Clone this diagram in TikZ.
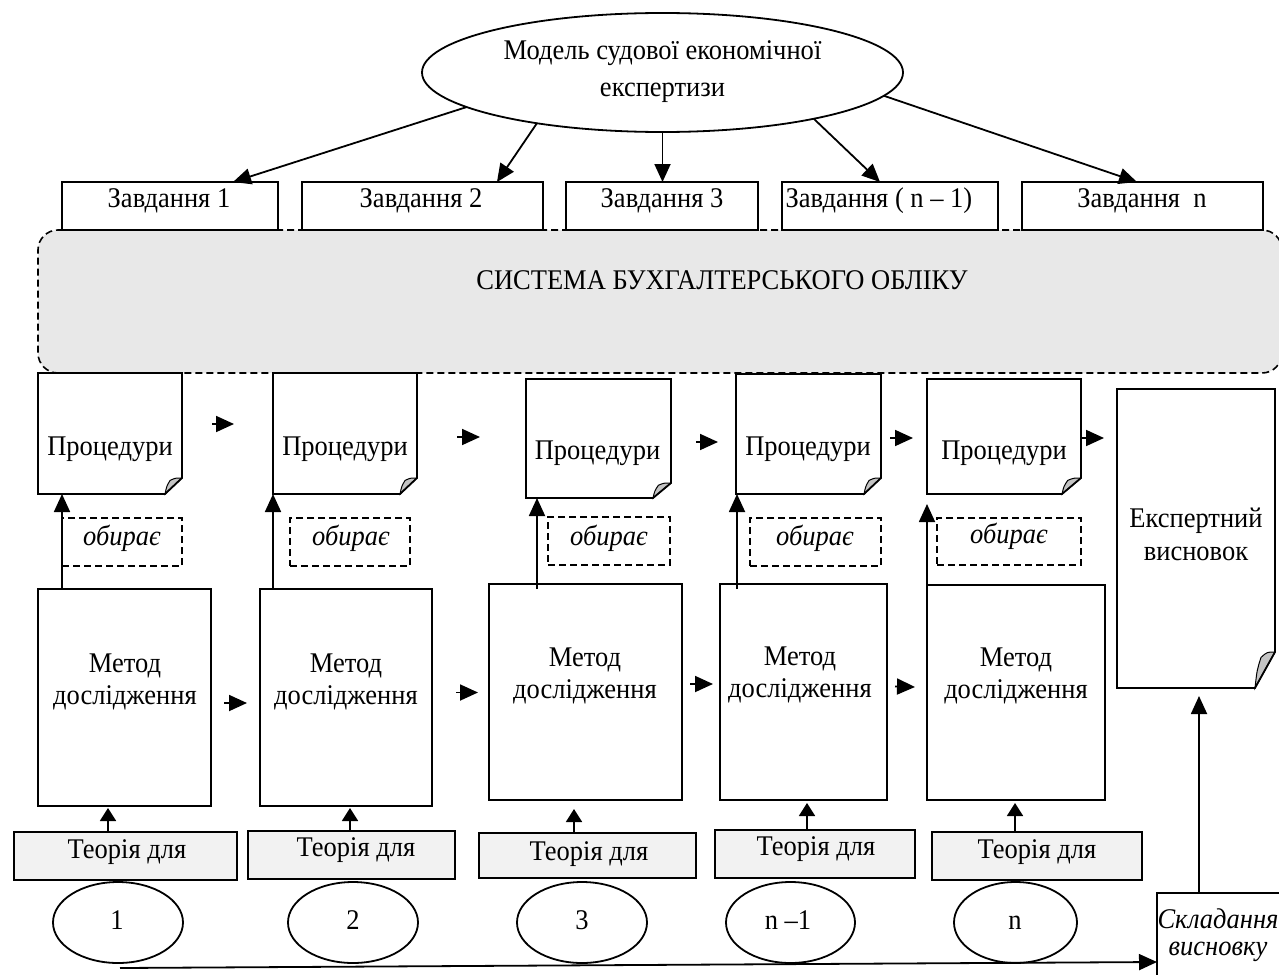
\documentclass[tikz,border=0pt]{standalone}
\usepackage{fontspec}
\setmainfont{Liberation Serif}[FakeStretch=0.93]
\usetikzlibrary{arrows.meta,calc,shapes.geometric}
\definecolor{sysgray}{HTML}{E8E8E8}
\definecolor{thgray}{HTML}{F2F2F2}
\definecolor{foldgray}{HTML}{C4C4C4}
\newcommand\fsz[1]{\fontsize{28.5}{#1}\selectfont}
\newcommand\foldshape[3]{%
  \filldraw[line width=1pt, fill=foldgray] ($(#1.south east)+(0,-#3)$) -- ($(#1.south east)+(-#2,0)$) .. controls ($(#1.south east)+(-0.9*#2,-0.5*#3)$) .. ($(#1.south east)+(-0.7*#2,-0.85*#3)$) .. controls ($(#1.south east)+(-0.4*#2,-1.0*#3)$) .. ($(#1.south east)+(0,-#3)$);
  \draw[shp] (#1.north west) -- (#1.north east) -- ($(#1.south east)+(0,-#3)$) -- ($(#1.south east)+(-#2,0)$) -- (#1.south west) -- cycle;
}
\tikzset{
  every node/.style={inner sep=0pt, outer sep=0pt},
  shp/.style={line width=1.8pt, line join=miter},
  blank/.style={rectangle},
  rbox/.style={rectangle, draw, fill=white, line width=1.8pt},
  sysbox/.style={rectangle, draw, fill=sysgray, line width=1.6pt, dash pattern=on 7pt off 4pt, rounded corners=20pt},
  dbox/.style={rectangle, draw, line width=1.6pt, dash pattern=on 7pt off 4pt},
  thbox/.style={rectangle, draw, fill=thgray, line width=1.8pt},
  oval/.style={ellipse, draw, line width=1.8pt},
  txt/.style={anchor=base, font=\fsz{34}},
  itxt/.style={anchor=base, font=\fsz{34}\itshape},
  arr/.style={line width=1.8pt, -{Triangle[length=18pt,width=16pt]}},
  sarr/.style={line width=1.8pt, -{Triangle[length=13pt,width=16pt]}},
}
\begin{document}
\begin{tikzpicture}[x=1pt,y=-1pt]
\useasboundingbox (0,0) rectangle (1279,974);

% accounting system background
\node[sysbox, minimum width=1244pt, minimum height=143pt, anchor=north west] (sys) at (38,230) {};
\node[txt] (syst) at (722,289) {СИСТЕМА БУХГАЛТЕРСЬКОГО ОБЛІКУ};

% top ellipse
\node[oval, minimum width=481pt, minimum height=119pt] (top) at (662.5,72.5) {};
\node[align=center, font=\fsz{37}] (topt) at (662.5,71.5) {Модель судової економічної\\експертизи};

% tasks
\node[rbox, minimum width=216pt, minimum height=48pt] (t1) at (170,206) {};
\node[rbox, minimum width=241pt, minimum height=48pt] (t2) at (422.5,206) {};
\node[rbox, minimum width=192pt, minimum height=48pt] (t3) at (662,206) {};
\node[rbox, minimum width=216pt, minimum height=48pt] (t4) at (890,206) {};
\node[rbox, minimum width=241pt, minimum height=48pt] (t5) at (1142.5,206) {};
\node[txt] (t1t) at (169,207) {Завдання 1};
\node[txt] (t2t) at (421,207) {Завдання 2};
\node[txt] (t3t) at (662,207) {Завдання 3};
\node[txt] (t4t) at (879,207) {Завдання ( n – 1)};
\node[txt] (t5t) at (1142,207) {Завдання\ \ n};

\draw[arr] (top.190.45) -- ([xshift=63pt]t1.north);
\draw[arr] (top.202.1) -- ([xshift=74.5pt]t2.north);
\draw[arr] (top.south) -- (top.south |- t3.north);
\draw[arr] (top.-17.1) -- ([xshift=-10pt]t4.north);
\draw[arr] (top.-6) -- ([xshift=-5.5pt]t5.north);

% procedures
\node[blank, minimum width=144pt, minimum height=121pt] (p1) at (110,433.5) {};
\node[blank, minimum width=144pt, minimum height=121pt] (p2) at (345,433.5) {};
\node[blank, minimum width=145pt, minimum height=119pt] (p3) at (598.5,438.5) {};
\node[blank, minimum width=145pt, minimum height=120pt] (p4) at (808.5,434) {};
\node[blank, minimum width=154pt, minimum height=115pt] (p5) at (1004,436.5) {};
\node[blank, minimum width=158pt, minimum height=299pt] (ex) at (1196,538.5) {};
\foldshape{p1}{17}{16}
\foldshape{p2}{17}{16}
\foldshape{p3}{18}{15}
\foldshape{p4}{17}{16}
\foldshape{p5}{19}{16}
\foldshape{ex}{20}{36}
\node[txt] (p1t) at (110,455) {Процедури};
\node[txt] (p2t) at (345,455) {Процедури};
\node[txt] (p3t) at (597.5,459) {Процедури};
\node[txt] (p4t) at (808,455) {Процедури};
\node[txt] (p5t) at (1004,459) {Процедури};
\node[align=center, font=\fsz{33}] (ext) at (1196,534) {Експертний\\висновок};

\draw[arr] ($(p1.east)+(30,-9.5)$) -- ($(p2.west)+(-39,-9.5)$);
\draw[arr] ($(p2.east)+(40,3.5)$) -- ($(p3.west)+(-46,-1.5)$);
\draw[arr] ($(p3.east)+(25,3.5)$) -- ($(p4.west)+(-18,8)$);
\draw[arr] ($(p4.east)+(9,4)$) -- ($(p5.west)+(-14,1.5)$);
\draw[arr] ($(p5.east)+(1,1.5)$) -- ($(ex.north west)+(-13,49)$);

% "obyraie" boxes
\node[dbox, minimum width=120pt, minimum height=48pt] (ob1) at (122,542) {};
\node[dbox, minimum width=120pt, minimum height=48pt] (ob2) at (350,542) {};
\node[dbox, minimum width=122pt, minimum height=48pt] (ob3) at (609,541) {};
\node[dbox, minimum width=131pt, minimum height=48pt] (ob4) at (815.5,542) {};
\node[dbox, minimum width=144pt, minimum height=47pt] (ob5) at (1009,541.5) {};
\node[itxt] (ob1t) at (122,545) {обирає};
\node[itxt] (ob2t) at (351,545) {обирає};
\node[itxt] (ob3t) at (609,545) {обирає};
\node[itxt] (ob4t) at (815,545) {обирає};
\node[itxt] (ob5t) at (1009,543) {обирає};

% methods
\node[rbox, minimum width=173pt, minimum height=217pt] (m1) at (124.5,697.5) {};
\node[rbox, minimum width=172pt, minimum height=217pt] (m2) at (346,697.5) {};
\node[rbox, minimum width=193pt, minimum height=216pt] (m3) at (585.5,692) {};
\node[rbox, minimum width=167pt, minimum height=216pt] (m4) at (803.5,692) {};
\node[rbox, minimum width=178pt, minimum height=215pt] (m5) at (1016,692.5) {};
\node[align=center, font=\fsz{32}] (m1t) at (125,681.5) {Метод\\дослідження};
\node[align=center, font=\fsz{32}] (m2t) at (346,681.5) {Метод\\дослідження};
\node[align=center, font=\fsz{32}] (m3t) at (585,675.5) {Метод\\дослідження};
\node[align=center, font=\fsz{32}] (m4t) at (800,674.5) {Метод\\дослідження};
\node[align=center, font=\fsz{32}] (m5t) at (1016,675.5) {Метод\\дослідження};

\draw[arr] ($(m1.east)+(13,5.5)$) -- ($(m2.west)+(-13,5.5)$);
\draw[arr] ($(m2.east)+(24,-5)$) -- ($(m3.west)+(-11,0.5)$);
\draw[arr] ($(m3.east)+(8,-8)$) -- ($(m4.west)+(-7,-8)$);
\draw[arr] ($(m4.east)+(8,-5.5)$) -- ($(m5.west)+(-12,-5.5)$);

% method -> procedure
\draw[arr] ([xshift=24pt]m1.north west) -- ([xshift=24pt]p1.south west);
\draw[arr] (p2.south west |- m2.north) -- (p2.south west);
\draw[arr] ($(p3.south west |- m3.north)+(11,5)$) -- ($(p3.south west)+(11,0)$);
\draw[arr] ($(p4.south west |- m4.north)+(1,5)$) -- ($(p4.south west)+(1,0)$);
\draw[arr] (m5.north west) -- ($(m5.north west |- p5.south)+(0,10)$);

% theory boxes
\node[thbox, minimum width=223pt, minimum height=48pt] (th1) at (125.5,856) {};
\node[thbox, minimum width=207pt, minimum height=48pt] (th2) at (351.5,855) {};
\node[thbox, minimum width=217pt, minimum height=45pt] (th3) at (587.5,855.5) {};
\node[thbox, minimum width=200pt, minimum height=48pt] (th4) at (815,854) {};
\node[thbox, minimum width=210pt, minimum height=48pt] (th5) at (1037,856) {};
\node[txt] (th1t) at (127,858) {Теорія для};
\node[txt] (th2t) at (356,856) {Теорія для};
\node[txt] (th3t) at (589,860) {Теорія для};
\node[txt] (th4t) at (816,855) {Теорія для};
\node[txt] (th5t) at (1037,858) {Теорія для};

\draw[sarr] ($(th1.north)+(-17.5,0)$) -- ($(m1.south -| th1.north)+(-17.5,2)$);
\draw[sarr] ($(th2.north)+(-1.5,0)$) -- ($(m2.south -| th2.north)+(-1.5,2)$);
\draw[sarr] ($(th3.north)+(-13.5,0)$) -- ($(m3.south -| th3.north)+(-13.5,9)$);
\draw[sarr] ($(th4.north)+(-8,0)$) -- ($(m4.south -| th4.north)+(-8,3)$);
\draw[sarr] ($(th5.north)+(-22,0)$) -- ($(m5.south -| th5.north)+(-22,3)$);

% bottom ellipses
\node[oval, minimum width=130pt, minimum height=81pt] (e1) at (118,922.5) {};
\node[oval, minimum width=130pt, minimum height=81pt] (e2) at (353,922.5) {};
\node[oval, minimum width=130pt, minimum height=81pt] (e3) at (582,922.5) {};
\node[oval, minimum width=129pt, minimum height=81pt] (e4) at (790.5,922.5) {};
\node[oval, minimum width=123pt, minimum height=81pt] (e5) at (1015.5,922.5) {};
\node[txt] (e1t) at (117,929) {1};
\node[txt] (e2t) at (353,929) {2};
\node[txt] (e3t) at (582,929) {3};
\node[txt] (e4t) at (788,929) {n –1};
\node[txt] (e5t) at (1015,929) {n};

% conclusion drafting
\node[rbox, minimum width=150pt, minimum height=100pt, anchor=north west] (sk) at (1157,893) {};
\node[align=center, font=\fsz{27}\itshape] (skt) at (1218,935) {Складання\\висновку};
\coordinate (bstart) at (120,968);
\draw[arr] (bstart) -- ($(sk.north west)+(0,69)$);
\draw[arr] ($(sk.north west)+(42,0)$) -- ($(ex.south west)+(82,8)$);
\end{tikzpicture}
\end{document}
